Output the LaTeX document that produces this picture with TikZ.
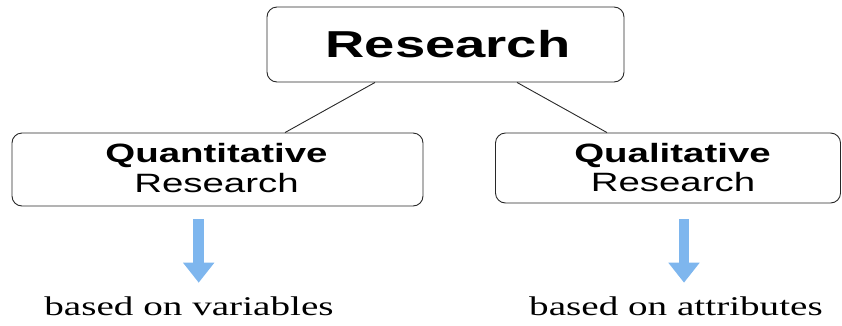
\documentclass[tikz,border=0pt]{standalone}
\usepackage{fontspec}
\usetikzlibrary{arrows.meta}
\newfontfamily\hsans[FakeStretch=1.45]{Liberation Sans}
\newfontfamily\hserif[FakeStretch=1.45]{Liberation Serif}
\definecolor{arrowblue}{RGB}{126,182,238}
\definecolor{edgegray}{RGB}{40,40,40}
\begin{document}
\begin{tikzpicture}[x=1bp,y=-1bp,
  rbox/.style={draw=edgegray, line width=0.9bp, rounded corners=10bp, inner sep=0pt, fill=white},
  toptext/.style={font=\hsans\bfseries\fontsize{37.5bp}{40bp}\selectfont, inner sep=0pt, anchor=base},
  boldtext/.style={font=\hsans\bfseries\fontsize{26.5bp}{30bp}\selectfont, inner sep=0pt, anchor=base},
  plaintext/.style={font=\hsans\fontsize{26.5bp}{30bp}\selectfont, inner sep=0pt, anchor=base},
  serifnote/.style={font=\hserif\fontsize{27bp}{30bp}\selectfont, inner sep=0pt, anchor=base},
  conn/.style={draw=edgegray, line width=0.9bp},
  bluearrow/.style={draw=arrowblue, line width=10.5bp, -{Triangle[width=30bp,length=20bp]}}
]
\useasboundingbox (0,0) rectangle (842,325);
% boxes
\node[rbox, minimum width=357bp, minimum height=75bp] (top) at (445.5,44.5) {};
\node[rbox, minimum width=411bp, minimum height=73bp] (quant) at (217.5,169.5) {};
\node[rbox, minimum width=345bp, minimum height=70bp] (qual) at (668,168) {};
% texts
\node[toptext] (toplabel) at (448,57) {Research};
\node[boldtext] (quant1) at (216.5,162.7) {Quantitative};
\node[plaintext] (quant2) at (216.5,192.7) {Research};
\node[boldtext] (qual1) at (672.5,162.7) {Qualitative};
\node[plaintext] (qual2) at (673,191.7) {Research};
\node[serifnote] (varnote) at (189,315) {based on variables};
\node[serifnote] (attnote) at (676,315) {based on attributes};
% connectors
\draw[conn] ([xshift=-70.5bp]top.south) -- ([xshift=67.5bp]quant.north);
\draw[conn] ([xshift=71.5bp]top.south) -- ([xshift=-61bp]qual.north);
% arrows
\coordinate (a1s) at (198.7,219.3);
\coordinate (a1e) at (198.7,282.7);
\coordinate (a2s) at (684,219.3);
\coordinate (a2e) at (684,282.7);
\draw[bluearrow] (a1s) -- (a1e);
\draw[bluearrow] (a2s) -- (a2e);
\end{tikzpicture}
\end{document}
